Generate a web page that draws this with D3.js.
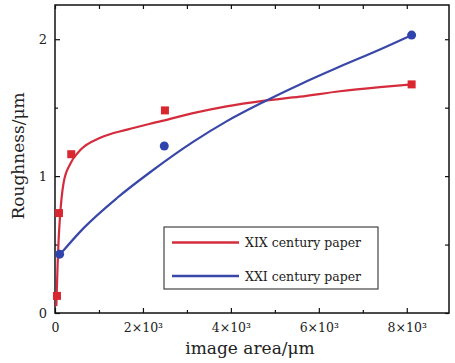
<!DOCTYPE html>
<html>
<head>
<meta charset="utf-8">
<script src="https://cdn.jsdelivr.net/npm/d3@7"></script>
<style>
  body { margin: 0; background: #fff; }
  svg text { font-family: "DejaVu Serif", "Liberation Serif", serif; fill: #222; }
</style>
</head>
<body>
<div id="chart"></div>
<script>
// series names
const SERIES = ["XIX century paper", "XXI century paper"];

// measured points (image area in um, roughness in um)
const RED_X = [45, 90, 370, 2500, 8110];
const RED_Y = [0.125, 0.73, 1.16, 1.48, 1.67];
const BLUE_X = [105, 2485, 8110];
const BLUE_Y = [0.43, 1.22, 2.03];

// fitted curves
const RED_FIT_X = [30, 60, 82, 120, 195, 348, 575, 1030, 1640, 2390, 3140, 3900, 4730, 5570, 6480, 7390, 8110];
const RED_FIT_Y = [0.05, 0.36, 0.53, 0.73, 0.95, 1.09, 1.19, 1.28, 1.34, 1.40, 1.46, 1.51, 1.55, 1.58, 1.62, 1.65, 1.67];
const BLUE_FIT_X = [120, 650, 1410, 2170, 3140, 3900, 4730, 5570, 6480, 7390, 8110];
const BLUE_FIT_Y = [0.43, 0.62, 0.84, 1.03, 1.25, 1.40, 1.54, 1.67, 1.80, 1.925, 2.03];

// ticks
const X_TICKS = [0, 2000, 4000, 6000, 8000];
const X_TICK_LABELS = ["0", "2×10³", "4×10³", "6×10³", "8×10³"];
const X_MINOR = [1000, 3000, 5000, 7000];
const Y_TICKS = [0, 1, 2];
const Y_TICK_LABELS = ["0", "1", "2"];
const Y_MINOR = [0.5, 1.5];

const WIDTH = 455, HEIGHT = 363;
const PLOT = {left: 55, right: 449, top: 5, bottom: 313};
const RED = "#d9262f", RED_LINE = "#d42c3c";
const BLUE = "#2f45ad", BLUE_LINE = "#3947a8";

const SVG = d3.select("#chart").append("svg")
    .attr("width", WIDTH).attr("height", HEIGHT);

const X_SCALE = d3.scaleLinear().domain([0, 8960]).range([PLOT.left, PLOT.right]);
const Y_SCALE = d3.scaleLinear().domain([0, 2.25]).range([PLOT.bottom, PLOT.top]);

// axes with inward ticks
function styleAxis(g) {
    g.select(".domain").remove();
    g.selectAll(".tick line").attr("stroke", "#111").attr("stroke-width", 1.2);
}
SVG.append("g").attr("transform", "translate(0," + PLOT.bottom + ")")
    .call(d3.axisBottom(X_SCALE).tickValues(X_TICKS).tickSize(-5).tickPadding(10)
        .tickFormat((d, i) => X_TICK_LABELS[i]))
    .call(styleAxis)
    .selectAll("text").attr("font-size", 12.5).attr("font-family", "DejaVu Serif").attr("fill", "#222");
SVG.append("g").attr("transform", "translate(0," + PLOT.bottom + ")")
    .call(d3.axisBottom(X_SCALE).tickValues(X_MINOR).tickSize(-3).tickFormat(""))
    .call(styleAxis);
SVG.append("g").attr("transform", "translate(0," + PLOT.top + ")")
    .call(d3.axisTop(X_SCALE).tickValues(X_TICKS.concat(X_MINOR)).tickSize(-4).tickFormat(""))
    .call(styleAxis);

SVG.append("g").attr("transform", "translate(" + PLOT.left + ",0)")
    .call(d3.axisLeft(Y_SCALE).tickValues(Y_TICKS).tickSize(-5).tickPadding(8)
        .tickFormat((d, i) => Y_TICK_LABELS[i]))
    .call(styleAxis)
    .selectAll("text").attr("font-size", 13).attr("font-family", "DejaVu Serif").attr("fill", "#222");
SVG.append("g").attr("transform", "translate(" + PLOT.left + ",0)")
    .call(d3.axisLeft(Y_SCALE).tickValues(Y_MINOR).tickSize(-3).tickFormat(""))
    .call(styleAxis);
SVG.append("g").attr("transform", "translate(" + PLOT.right + ",0)")
    .call(d3.axisRight(Y_SCALE).tickValues(Y_TICKS.concat(Y_MINOR)).tickSize(-4).tickFormat(""))
    .call(styleAxis);

// frame
SVG.append("rect")
    .attr("x", PLOT.left).attr("y", PLOT.top)
    .attr("width", PLOT.right - PLOT.left).attr("height", PLOT.bottom - PLOT.top)
    .attr("fill", "none").attr("stroke", "#111").attr("stroke-width", 1.5);

// fitted curves
const line = d3.line()
    .x((d) => X_SCALE(d[0]))
    .y((d) => Y_SCALE(d[1]))
    .curve(d3.curveMonotoneX);

SVG.append("path")
    .attr("d", line(RED_FIT_X.map((x, i) => [x, RED_FIT_Y[i]])))
    .attr("fill", "none").attr("stroke", RED_LINE).attr("stroke-width", 2.2);
SVG.append("path")
    .attr("d", line(BLUE_FIT_X.map((x, i) => [x, BLUE_FIT_Y[i]])))
    .attr("fill", "none").attr("stroke", BLUE_LINE).attr("stroke-width", 2.2);

// markers
SVG.selectAll(".sq").data(RED_X).enter().append("rect")
    .attr("class", "sq")
    .attr("x", (d) => X_SCALE(d) - 4)
    .attr("y", (d, i) => Y_SCALE(RED_Y[i]) - 4)
    .attr("width", 8).attr("height", 8)
    .attr("fill", RED);
SVG.selectAll(".dot").data(BLUE_X).enter().append("circle")
    .attr("class", "dot")
    .attr("cx", (d) => X_SCALE(d))
    .attr("cy", (d, i) => Y_SCALE(BLUE_Y[i]))
    .attr("r", 4.5)
    .attr("fill", BLUE);

// legend
const LEG = SVG.append("g").attr("transform", "translate(164,227)");
LEG.append("rect").attr("width", 214).attr("height", 62)
    .attr("fill", "#fff").attr("stroke", "#444").attr("stroke-width", 1.2);
[RED_LINE, BLUE_LINE].forEach((c, i) => {
    const yy = 15.5 + i * 33.5;
    LEG.append("line").attr("x1", 8).attr("x2", 75).attr("y1", yy).attr("y2", yy)
        .attr("stroke", c).attr("stroke-width", 2.6);
    LEG.append("text").attr("x", 81).attr("y", yy + 4.5)
        .attr("font-size", 12.5).text(SERIES[i]);
});

// axis titles
SVG.append("text")
    .attr("x", 250).attr("y", 354)
    .attr("text-anchor", "middle").attr("font-size", 17)
    .text("image area/μm");
SVG.append("text")
    .attr("transform", "translate(24,156) rotate(-90)")
    .attr("text-anchor", "middle").attr("font-size", 17)
    .text("Roughness/μm");
</script>
</body>
</html>
